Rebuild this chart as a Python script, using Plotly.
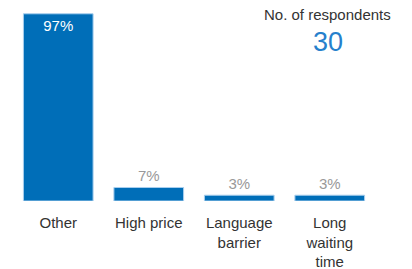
import plotly.graph_objects as go

categories = ["Other", "High price", "Language barrier", "Long waiting time"]
tick_labels = ["Other", "High price", "Language<br>barrier", "Long<br>waiting<br>time"]
values = [97, 7, 3, 3]
respondents_label = "No. of respondents"
respondents = 30

FONT = "Liberation Sans, Arial, sans-serif"

fig = go.Figure(go.Bar(
    x=categories,
    y=values,
    marker=dict(color="#006EB8", line=dict(color="#A9CFEE", width=1)),
    texttemplate="%{y}%",
    textposition=["inside", "outside", "outside", "outside"],
    insidetextanchor="end",
    textfont=dict(family=FONT, size=15,
                  color=["#FFFFFF", "#999999", "#999999", "#999999"]),
    cliponaxis=False,
    width=0.77,
))

fig.add_annotation(xref="paper", yref="paper", x=0.869, y=0.964, xanchor="center", yanchor="middle",
                   text=respondents_label, showarrow=False,
                   font=dict(family=FONT, size=15, color="#333333"))
fig.add_annotation(xref="paper", yref="paper", x=0.869, y=0.824, xanchor="center", yanchor="middle",
                   text=str(respondents), showarrow=False,
                   font=dict(family=FONT, size=27, color="#2680CC"))

fig.update_layout(
    width=412, height=269,
    margin=dict(l=12.5, r=36.5, t=8, b=68),
    paper_bgcolor="white", plot_bgcolor="white",
    showlegend=False,
    font=dict(family=FONT, size=15, color="#333333"),
    xaxis=dict(tickmode="array", tickvals=categories, ticktext=tick_labels,
               showgrid=False, zeroline=False, showline=False,
               ticks="outside", ticklen=8, tickcolor="rgba(0,0,0,0)",
               range=[-0.5, 3.5], tickfont=dict(size=15, color="#333333"),
               automargin=False),
    yaxis=dict(range=[0, 100], visible=False),
)

fig.write_html("out.html", config={"displayModeBar": False},
               post_script="document.body.style.margin='0';")
